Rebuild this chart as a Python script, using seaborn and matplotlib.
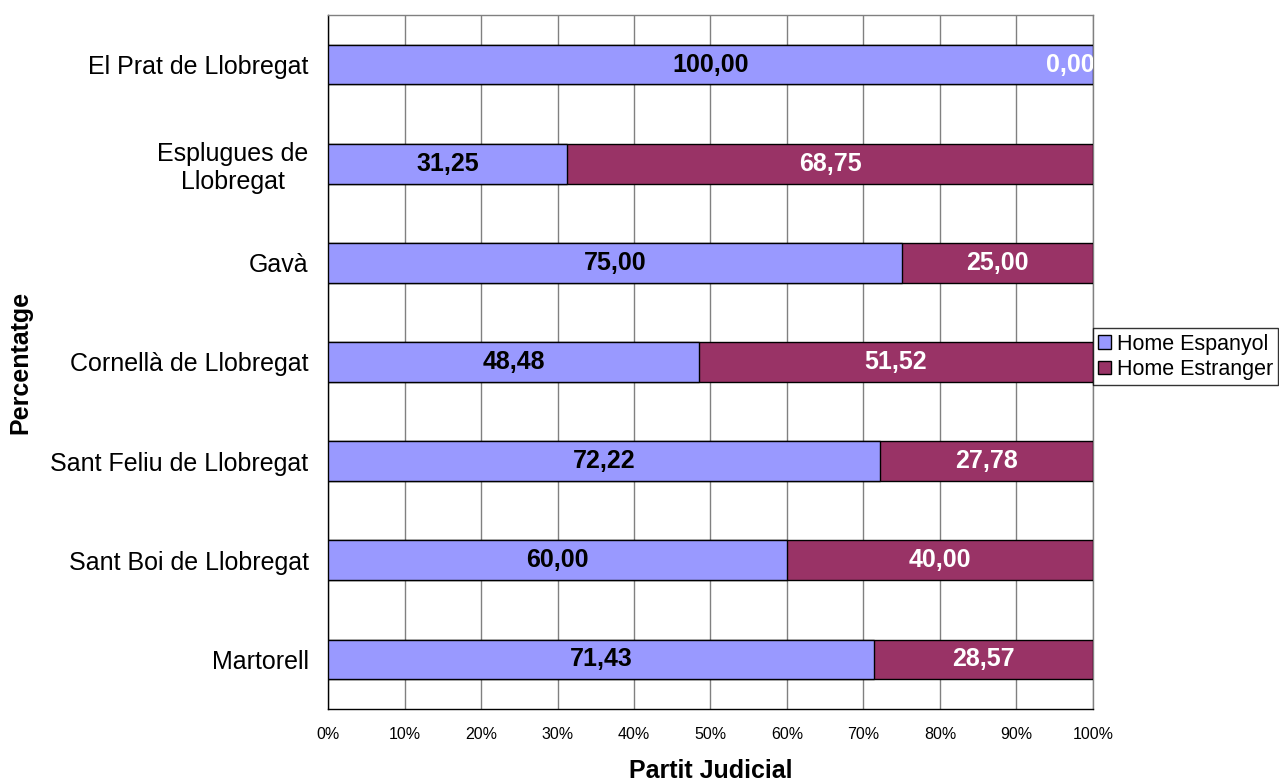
import matplotlib
matplotlib.use("Agg")
import matplotlib.pyplot as plt
import seaborn as sns
import pandas as pd
import numpy as np
from matplotlib.patches import Patch

partits = ["El Prat de Llobregat", "Esplugues de\nLlobregat", "Gavà",
           "Cornellà de Llobregat", "Sant Feliu de Llobregat",
           "Sant Boi de Llobregat", "Martorell"]
espanyol = [100.00, 31.25, 75.00, 48.48, 72.22, 60.00, 71.43]
estranger = [0.00, 68.75, 25.00, 51.52, 27.78, 40.00, 28.57]

col_esp = "#9999FF"
col_est = "#993366"

sns.set_style("white")
plt.rcParams["font.family"] = ["Liberation Sans", "DejaVu Sans"]
plt.rcParams["text.color"] = "black"
plt.rcParams["axes.labelcolor"] = "black"
plt.rcParams["xtick.color"] = "black"
plt.rcParams["ytick.color"] = "black"

df = pd.DataFrame({"partit": partits, "esp": espanyol, "est": estranger})
df["total"] = df["esp"] + df["est"]

fig = plt.figure(figsize=(12.79, 7.81), dpi=100)
ax = fig.add_axes([0.2565, 0.0922, 0.598, 0.8886])

sns.barplot(data=df, x="total", y="partit", orient="h", color=col_est,
            width=0.4, edgecolor="black", linewidth=1, saturation=1, ax=ax, zorder=3)
sns.barplot(data=df, x="esp", y="partit", orient="h", color=col_esp,
            width=0.4, edgecolor="black", linewidth=1, saturation=1, ax=ax, zorder=3)

n = len(partits)
for i in range(n):
    e = df["esp"][i]
    s = df["est"][i]
    ax.text(e / 2, i, f"{e:.2f}".replace(".", ","), ha="center", va="center",
            fontsize=18, fontweight="bold", color="black", zorder=5)
    if s > 0:
        ax.text(e + s / 2, i, f"{s:.2f}".replace(".", ","), ha="center", va="center",
                fontsize=18, fontweight="bold", color="white", zorder=5)
    else:
        ax.text(e - 3.0, i, f"{s:.2f}".replace(".", ","), ha="center", va="center",
                fontsize=18, fontweight="bold", color="white", zorder=5, clip_on=True)

ax.set_xlim(0, 100)
ax.set_ylim(n - 0.5, -0.5)
ax.set_xticks(np.arange(0, 101, 10))
ax.set_xticklabels([f"{v}%" for v in range(0, 101, 10)], fontsize=11.5)
ax.set_yticks(np.arange(-0.5, n, 1))
ax.set_yticklabels([])
ax.set_yticks(np.arange(n), minor=True)
ax.set_yticklabels(partits, minor=True, fontsize=18)
ax.tick_params(axis="y", which="minor", length=0, pad=14)
ax.tick_params(axis="y", which="major", length=7, width=1, color="#808080", direction="out")
ax.tick_params(axis="x", length=6, width=1, color="black", direction="out", pad=7)
for lbl in ax.get_yticklabels(minor=True):
    lbl.set_horizontalalignment("right")
    lbl.set_multialignment("center")

ax.xaxis.grid(True, color="#808080", linewidth=1, zorder=0)
ax.set_axisbelow(True)
ax.spines["top"].set_color("#808080")
ax.spines["right"].set_color("#808080")
ax.spines["left"].set_color("black")
ax.spines["bottom"].set_color("black")
for sp in ax.spines.values():
    sp.set_linewidth(1)

ax.set_xlabel("Partit Judicial", fontsize=18, fontweight="bold")
ax.xaxis.set_label_coords(0.5, -0.072)
ax.set_ylabel("Percentatge", fontsize=18, fontweight="bold")
ax.yaxis.set_label_coords(-0.386, 0.5)

handles = [Patch(facecolor=col_esp, edgecolor="black", label="Home Espanyol"),
           Patch(facecolor=col_est, edgecolor="black", label="Home Estranger")]
leg = fig.legend(handles=handles, loc="center left", bbox_to_anchor=(0.8546, 0.543),
                 fontsize=15.5, frameon=True, fancybox=False, edgecolor="black",
                 handlelength=0.6, handleheight=0.6, handletextpad=0.25,
                 borderpad=0.25, labelspacing=0.2, borderaxespad=0)
leg.get_frame().set_linewidth(1)

fig.savefig("out.png", dpi=100)
